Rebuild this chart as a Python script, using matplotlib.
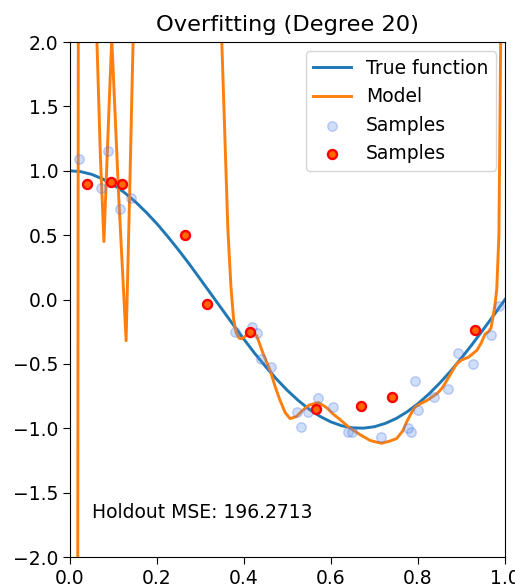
import matplotlib
matplotlib.use("Agg")
import matplotlib.pyplot as plt

plt.rcParams["font.size"] = 13.5

# True function, sampled along x
true_x = [0.0, 0.025, 0.05, 0.075, 0.1, 0.125, 0.15, 0.175, 0.2, 0.225, 0.25,
          0.275, 0.3, 0.325, 0.35, 0.375, 0.4, 0.425, 0.45, 0.475, 0.5,
          0.525, 0.55, 0.575, 0.6, 0.625, 0.65, 0.675, 0.7, 0.725, 0.75,
          0.775, 0.8, 0.825, 0.85, 0.875, 0.9, 0.925, 0.95, 0.975, 1.0]
true_y = [1.0, 0.993, 0.972, 0.937, 0.891, 0.831, 0.760, 0.678, 0.588, 0.488, 0.383,
          0.272, 0.156, 0.039, -0.078, -0.195, -0.309, -0.420, -0.522, -0.619, -0.707,
          -0.785, -0.853, -0.908, -0.951, -0.981, -0.997, -0.999, -0.988, -0.962, -0.924,
          -0.872, -0.809, -0.734, -0.649, -0.556, -0.454, -0.346, -0.233, -0.118, 0.0]

# Degree-20 model curve
model_x = [0.0, 0.0185, 0.037, 0.05, 0.058, 0.062, 0.070, 0.078, 0.087, 0.096,
           0.112, 0.129, 0.137, 0.145, 0.16, 0.25, 0.33, 0.349, 0.363, 0.370,
           0.376, 0.382, 0.389, 0.395, 0.407, 0.418, 0.429, 0.444, 0.460, 0.472,
           0.483, 0.495, 0.506, 0.52, 0.535, 0.55, 0.571, 0.59, 0.605, 0.62,
           0.64, 0.667, 0.69, 0.716, 0.735, 0.751, 0.765, 0.774, 0.785, 0.793,
           0.805, 0.82, 0.843, 0.855, 0.866, 0.878, 0.889, 0.90, 0.916, 0.935,
           0.945, 0.954, 0.962, 0.968, 0.973, 0.977, 0.981, 0.986, 0.990, 0.995,
           1.0]
model_y = [-60.0, 0.0, 60.0, 30.0, 8.0, 2.0, 1.1, 0.45, 1.25, 2.03,
           0.8, -0.32, 0.8, 2.0, 6.0, 25.0, 7.0, 2.0, 0.54, 0.10,
           -0.15, -0.26, -0.30, -0.305, -0.275, -0.254, -0.28, -0.42, -0.55, -0.68,
           -0.785, -0.88, -0.925, -0.91, -0.86, -0.82, -0.80, -0.84, -0.89, -0.93,
           -0.99, -1.05, -1.095, -1.117, -1.10, -1.08, -1.02, -0.95, -0.88, -0.837,
           -0.81, -0.785, -0.733, -0.69, -0.63, -0.56, -0.50, -0.47, -0.448, -0.396,
           -0.34, -0.27, -0.25, -0.22, -0.12, -0.04, 0.08, 0.5, 2.0, 5.0,
           12.0]

# All noisy samples
all_x = [0.021, 0.087, 0.071, 0.115, 0.140, 0.379, 0.418, 0.431, 0.439, 0.462,
         0.521, 0.531, 0.546, 0.569, 0.605, 0.640, 0.648, 0.716, 0.778, 0.783,
         0.800, 0.793, 0.837, 0.870, 0.893, 0.927, 0.967, 0.986]
all_y = [1.09, 1.15, 0.868, 0.705, 0.787, -0.254, -0.215, -0.259, -0.46, -0.526,
         -0.87, -0.987, -0.87, -0.767, -0.837, -1.03, -1.03, -1.07, -0.997, -1.03,
         -0.857, -0.635, -0.759, -0.694, -0.414, -0.50, -0.272, -0.05]

# Training samples
train_x = [0.038, 0.094, 0.120, 0.264, 0.315, 0.414, 0.565, 0.670, 0.740, 0.931]
train_y = [0.899, 0.912, 0.899, 0.50, -0.033, -0.249, -0.85, -0.83, -0.756, -0.238]

holdout_mse = 196.2713

fig = plt.figure(figsize=(5.15, 5.87), dpi=100)
ax = fig.add_axes([0.1359, 0.0511, 0.8447, 0.8773])

ax.plot(true_x, true_y, color="#1f77b4", lw=2.1, label="True function")
ax.plot(model_x, model_y, color="#ff7f0e", lw=2.1, label="Model")
ax.scatter(all_x, all_y, s=46, color="cornflowerblue", alpha=0.3,
           edgecolors="royalblue", linewidths=1, label="Samples", zorder=3)
ax.scatter(train_x, train_y, s=42, facecolor="#ff6a00", edgecolors="red",
           linewidths=1.7, label="Samples", zorder=4)

ax.set_xlim(0, 1)
ax.set_ylim(-2, 2)
ax.set_xticks([0.0, 0.2, 0.4, 0.6, 0.8, 1.0])
ax.set_yticks([-2.0, -1.5, -1.0, -0.5, 0.0, 0.5, 1.0, 1.5, 2.0])
ax.tick_params(length=5)
ax.set_title("Overfitting (Degree 20)", fontsize=16.2, pad=8)
ax.text(0.05, 0.087, f"Holdout MSE: {holdout_mse:.4f}", transform=ax.transAxes,
        va="center", ha="left")
ax.legend(loc="upper right")

fig.savefig("out.png", dpi=100)
